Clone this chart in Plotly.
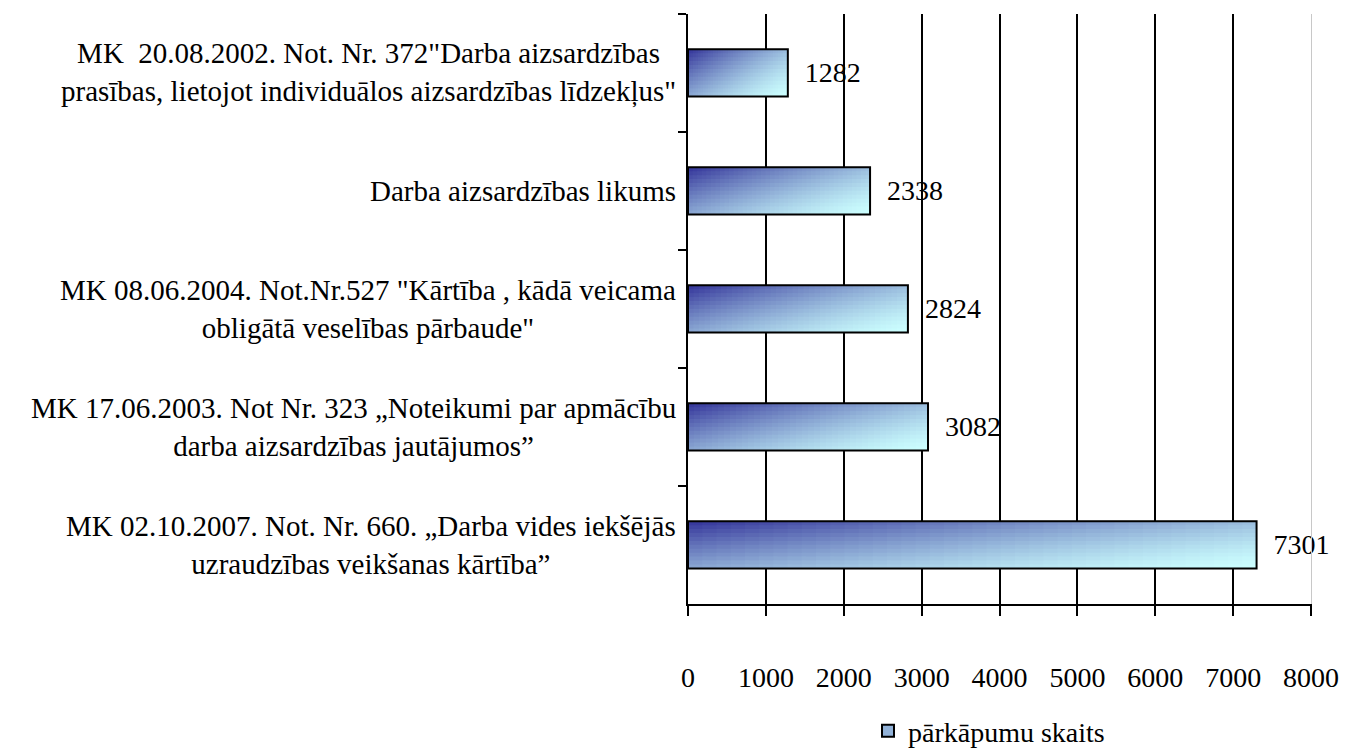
import plotly.graph_objects as go

# ---- data ----
categories = [
    'MK  20.08.2002. Not. Nr. 372"Darba aizsardzības<br>prasības, lietojot individuālos aizsardzības līdzekļus"',
    'Darba aizsardzības likums',
    'MK 08.06.2004. Not.Nr.527 "Kārtība , kādā veicama<br>obligātā veselības pārbaude"',
    'MK 17.06.2003. Not Nr. 323 „Noteikumi par apmācību<br>darba aizsardzības jautājumos”',
    'MK 02.10.2007. Not. Nr. 660. „Darba vides iekšējās<br>uzraudzības veikšanas kārtība”',
]
values = [1282, 2338, 2824, 3082, 7301]
series_name = "pārkāpumu skaits"
x_tick_values = [0, 1000, 2000, 3000, 4000, 5000, 6000, 7000, 8000]
grid_values = [1000, 2000, 3000, 4000, 5000, 6000, 7000]

FONT = "Liberation Serif"
PAGE_OFF = 8                      # default body margin of the html page
W, H = 1356 - PAGE_OFF, 756 - PAGE_OFF
PX0, PX1, PY0, PY1 = 688 - PAGE_OFF, 1311 - PAGE_OFF, 14 - PAGE_OFF, 616 - PAGE_OFF
BAR_W = 0.4
N_ROWS = 12     # gradient stripes across bar thickness
N_COLS = 40     # gradient segments along bar length
C0 = (51, 51, 153)
C1 = (204, 255, 255)


def grad_color(t):
    t = max(0.0, min(1.0, t))
    t = 1 - (1 - t) ** 1.4
    r, g, b = (round(a + (b_ - a) * t) for a, b_ in zip(C0, C1))
    return f"rgb({r},{g},{b})"


fig = go.Figure()

# gradient-filled bars built from stripes x segments of the same data
for i in range(N_ROWS):
    v = (i + 0.5) / N_ROWS
    h = BAR_W / N_ROWS
    off = -BAR_W / 2 + i * h
    hh = h * 1.4 if i < N_ROWS - 1 else h
    for j in range(N_COLS):
        u = (j + 0.5) / N_COLS
        frac = 1.0 / N_COLS * (1.3 if j < N_COLS - 1 else 1.0)
        fig.add_trace(go.Bar(
            y=categories,
            x=[val * frac for val in values],
            base=[val * j / N_COLS for val in values],
            orientation="h",
            width=hh,
            offset=off,
            marker=dict(color=grad_color(0.55 * u + 0.45 * v), line=dict(width=0)),
            showlegend=False,
            hoverinfo="skip",
        ))

# outline + value labels
fig.add_trace(go.Bar(
    y=categories,
    x=values,
    orientation="h",
    width=BAR_W,
    marker=dict(color="rgba(0,0,0,0)", line=dict(color="black", width=2)),
    text=[f"\u00a0\u00a0{v}" for v in values],
    textposition="outside",
    textfont=dict(family=FONT, size=28, color="black"),
    cliponaxis=False,
    constraintext="none",
    showlegend=False,
    name=series_name,
))

# legend entry
fig.add_trace(go.Bar(
    y=[None], x=[None], orientation="h",
    name=series_name,
    marker=dict(color=grad_color(0.5), line=dict(color="black", width=2)),
    showlegend=True,
))

# category labels (right-anchored block, centered lines)
for cat in categories:
    fig.add_annotation(
        x=PX0 / W, xref="paper", y=cat, yref="y",
        text=cat, showarrow=False,
        xanchor="right", yanchor="middle", align="center",
        xshift=-10,
        font=dict(family=FONT, size=29, color="black"),
    )

xdom = [PX0 / W, PX1 / W]
ydom = [1 - PY1 / H, 1 - PY0 / H]

fig.update_layout(
    width=W, height=H,
    margin=dict(l=0, r=0, t=0, b=0),
    paper_bgcolor="white", plot_bgcolor="white",
    barmode="overlay",
    font=dict(family=FONT, size=28, color="black"),
    showlegend=True,
    legend=dict(
        x=(868 - PAGE_OFF) / W, xanchor="left",
        y=1 - (746 - PAGE_OFF) / H, yanchor="middle",
        font=dict(family=FONT, size=28, color="black"),
        bgcolor="rgba(0,0,0,0)", borderwidth=0,
        itemwidth=30,
    ),
    xaxis=dict(
        domain=xdom, automargin=False,
        range=[0, 8000], tickvals=x_tick_values,
        showgrid=False, zeroline=False,
        showline=True, linecolor="black", linewidth=2,
        ticks="outside", ticklen=10, tickwidth=2, tickcolor="black",
        ticklabelstandoff=38,
        tickfont=dict(family=FONT, size=28, color="black"),
    ),
    xaxis2=dict(
        domain=xdom, automargin=False,
        range=[0, 8000], overlaying="x", anchor="y",
        tickvals=grid_values, showgrid=True, gridcolor="black", gridwidth=2,
        showticklabels=False, ticks="", zeroline=False, showline=False,
    ),
    yaxis=dict(
        domain=ydom, automargin=False,
        categoryorder="array", categoryarray=categories,
        autorange="reversed",
        showticklabels=False, showgrid=False, zeroline=False,
        showline=True, linecolor="black", linewidth=2,
        ticks="outside", tickson="boundaries", ticklen=8, tickwidth=2, tickcolor="black",
    ),
    yaxis2=dict(
        domain=ydom, automargin=False,
        overlaying="y", anchor="x", side="right",
        range=[0, 1], showline=True, linecolor="#c8c8c8", linewidth=1,
        showticklabels=False, ticks="", showgrid=False, zeroline=False,
    ),
)

# invisible traces so the overlay axes are drawn
fig.add_trace(go.Scatter(x=[None], y=[None], xaxis="x2", yaxis="y", showlegend=False, hoverinfo="skip"))
fig.add_trace(go.Scatter(x=[None], y=[None], xaxis="x", yaxis="y2", showlegend=False, hoverinfo="skip"))

fig.write_html("out.html")
